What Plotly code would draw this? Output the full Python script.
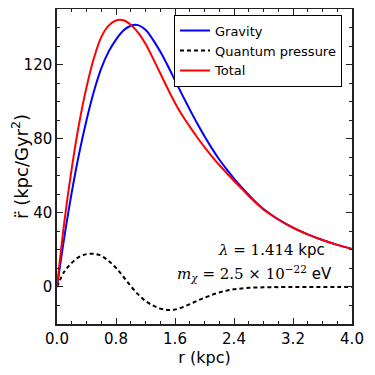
import plotly.graph_objects as go

# radius grid (kpc) and curves
r = [0.0, 0.1, 0.2, 0.3, 0.4, 0.5, 0.6, 0.7, 0.8, 0.9, 1.0,
     1.1, 1.2, 1.3, 1.4, 1.5, 1.6, 1.7, 1.8, 1.9, 2.0,
     2.1, 2.2, 2.3, 2.4, 2.5, 2.6, 2.7, 2.8, 2.9, 3.0,
     3.2, 3.4, 3.6, 3.8, 4.0]
gravity = [0.0, 27.0, 51.0, 72.0, 90.0, 105.5, 118.0, 127.0, 133.5, 138.4, 141.0,
           141.3, 138.8, 133.5, 127.0, 119.5, 111.5, 103.5, 95.8, 88.3, 81.3,
           74.8, 68.8, 63.5, 58.5, 54.0, 49.6, 45.6, 42.0, 39.1, 36.5,
           32.0, 28.4, 25.3, 22.7, 20.5]
quantum = [0.0, 8.3, 13.0, 16.2, 17.7, 17.9, 16.8, 14.0, 10.3, 5.5, 0.5,
           -4.0, -7.6, -10.0, -11.7, -12.4, -12.2, -11.0, -9.3, -7.5, -5.8,
           -4.3, -3.0, -2.0, -1.3, -0.8, -0.5, -0.3, -0.2, -0.1, -0.1,
           -0.05, 0.0, 0.0, 0.0, 0.0]
total = [0.0, 35.3, 64.0, 88.2, 107.7, 123.4, 134.8, 141.0, 143.8, 143.9, 141.5,
         137.3, 131.2, 123.5, 115.3, 107.1, 99.3, 92.5, 86.5, 80.8, 75.5,
         70.5, 65.8, 61.5, 57.2, 53.2, 49.1, 45.3, 41.8, 39.0, 36.4,
         31.95, 28.4, 25.3, 22.7, 20.5]

xticks = [0.0, 0.8, 1.6, 2.4, 3.2, 4.0]
yticks = [0, 40, 80, 120]

fig = go.Figure()
fig.add_trace(go.Scatter(x=r, y=gravity, mode='lines', name='Gravity',
                         line=dict(color='#0000ff', width=2, shape='spline')))
fig.add_trace(go.Scatter(x=r, y=quantum, mode='lines', name='Quantum pressure',
                         line=dict(color='black', width=2, dash='4px,3px', shape='spline')))
fig.add_trace(go.Scatter(x=r, y=total, mode='lines', name='Total',
                         line=dict(color='#ff0000', width=2, shape='spline')))

axis_common = dict(
    showline=True, linecolor='#222222', linewidth=1.5, mirror='ticks',
    ticks='inside', ticklen=6, tickwidth=1, tickcolor='#222222',
    showgrid=False, zeroline=False, automargin=False,
    tickfont=dict(family='DejaVu Sans', size=15, color='black'),
)

fig.update_xaxes(range=[0, 4], tickvals=xticks, ticktext=[f'{v:.1f}' for v in xticks],
                 minor=dict(dtick=0.2, ticks='inside', ticklen=3, tickcolor='#222222'),
                 title=dict(text='r (kpc)', font=dict(family='DejaVu Sans', size=16, color='black'),
                            standoff=2),
                 **axis_common)
fig.update_yaxes(range=[-20, 150], tickvals=yticks,
                 minor=dict(dtick=10, ticks='inside', ticklen=3, tickcolor='#222222'),
                 title=dict(text='r\u0308 (kpc/Gyr<sup>2</sup>)',
                            font=dict(family='DejaVu Sans', size=18, color='black'),
                            standoff=3),
                 **axis_common)

# the page body has an 8px margin, so the figure is drawn 8px smaller
fig.add_annotation(x=0.915, y=0.235, xref='paper', yref='paper', xanchor='right', yanchor='middle',
                   showarrow=False, align='right',
                   text='<span style="font-family:DejaVu Serif"><i>λ</i> = 1.414</span> kpc',
                   font=dict(family='DejaVu Sans', size=15, color='black'))
fig.add_annotation(x=0.938, y=0.160, xref='paper', yref='paper', xanchor='right', yanchor='middle',
                   showarrow=False, align='right',
                   text='<span style="font-family:DejaVu Serif"><i>m</i><sub><i>χ</i></sub> = 2.5 × 10<sup>−22</sup></span> eV',
                   font=dict(family='DejaVu Sans', size=15, color='black'))

fig.update_layout(
    width=367, height=367,
    margin=dict(l=49, r=23, t=1, b=51),
    plot_bgcolor='white', paper_bgcolor='white',
    showlegend=True,
    legend=dict(x=0.966, y=0.982, xanchor='right', yanchor='top',
                bgcolor='white', bordercolor='black', borderwidth=1,
                font=dict(family='DejaVu Sans', size=13, color='black'),
                tracegroupgap=0, itemwidth=30),
)

fig.write_html('out.html')
